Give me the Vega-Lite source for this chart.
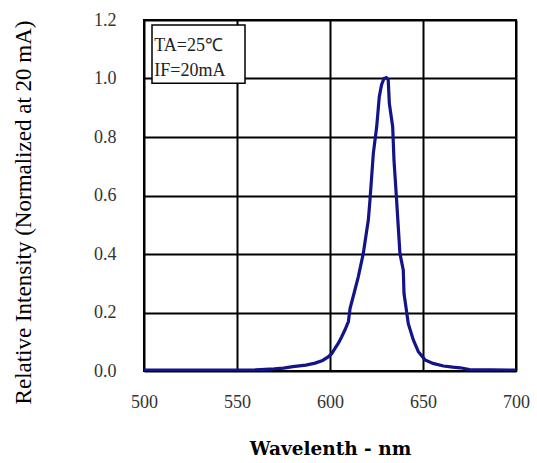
{
  "$schema": "https://vega.github.io/schema/vega-lite/v6.json",
  "width": 372,
  "height": 351,
  "autosize": {"type": "none"},
  "padding": {"left": 144, "top": 20, "right": 21, "bottom": 92},
  "background": "white",
  "config": {
    "view": {"stroke": "black", "strokeWidth": 2},
    "font": "Liberation Serif"
  },
  "datasets": {
    "spectrum": [
      {"wl": 500, "rel": 0.003},
      {"wl": 530, "rel": 0.003},
      {"wl": 560, "rel": 0.004},
      {"wl": 570, "rel": 0.007},
      {"wl": 575, "rel": 0.010},
      {"wl": 580, "rel": 0.015},
      {"wl": 587, "rel": 0.020},
      {"wl": 592, "rel": 0.027},
      {"wl": 596, "rel": 0.036},
      {"wl": 599, "rel": 0.048},
      {"wl": 601, "rel": 0.060},
      {"wl": 602.7, "rel": 0.077},
      {"wl": 604.5, "rel": 0.095},
      {"wl": 606.3, "rel": 0.117},
      {"wl": 608, "rel": 0.140},
      {"wl": 609.9, "rel": 0.169},
      {"wl": 610.8, "rel": 0.214},
      {"wl": 612.9, "rel": 0.265},
      {"wl": 615.2, "rel": 0.322},
      {"wl": 617.9, "rel": 0.402},
      {"wl": 620.6, "rel": 0.516},
      {"wl": 621.5, "rel": 0.585},
      {"wl": 623.3, "rel": 0.744},
      {"wl": 625.1, "rel": 0.835},
      {"wl": 626.5, "rel": 0.938},
      {"wl": 627.7, "rel": 0.978},
      {"wl": 629.0, "rel": 1.000},
      {"wl": 630.3, "rel": 1.003},
      {"wl": 631.3, "rel": 0.995},
      {"wl": 631.9, "rel": 0.915},
      {"wl": 633.7, "rel": 0.835},
      {"wl": 634.4, "rel": 0.721},
      {"wl": 635.8, "rel": 0.585},
      {"wl": 636.7, "rel": 0.493},
      {"wl": 637.6, "rel": 0.402},
      {"wl": 639.4, "rel": 0.345},
      {"wl": 639.8, "rel": 0.265},
      {"wl": 642.1, "rel": 0.162},
      {"wl": 644.8, "rel": 0.106},
      {"wl": 647.5, "rel": 0.066},
      {"wl": 651.1, "rel": 0.038},
      {"wl": 655.4, "rel": 0.026},
      {"wl": 661, "rel": 0.017},
      {"wl": 666, "rel": 0.013},
      {"wl": 670, "rel": 0.011},
      {"wl": 675, "rel": 0.005},
      {"wl": 700, "rel": 0.003}
    ],
    "box": [
      {"x1": 504.3, "x2": 554.3, "y1": 0.984, "y2": 1.183}
    ],
    "labels": [
      {"x": 505.5, "y": 1.11, "t": "TA=25\u2103"},
      {"x": 505.5, "y": 1.025, "t": "IF=20mA"}
    ]
  },
  "layer": [
    {
      "data": {"name": "spectrum"},
      "mark": {"type": "line", "color": "#141489", "strokeWidth": 3.2, "clip": true},
      "encoding": {
        "x": {
          "field": "wl", "type": "quantitative",
          "scale": {"domain": [500, 700], "nice": false, "zero": false},
          "axis": {
            "values": [500, 550, 600, 650, 700],
            "title": "Wavelenth - nm",
            "titleFont": "DejaVu Serif",
            "titleFontSize": 18.5,
            "titleFontWeight": "bold",
            "titleColor": "black",
            "titlePadding": 28,
            "labelFont": "Liberation Serif",
            "labelFontSize": 18,
            "labelColor": "#333333",
            "labelPadding": 22,
            "ticks": false,
            "domain": false,
            "grid": true,
            "gridColor": "black",
            "gridWidth": 2,
            "gridOpacity": 1,
            "labelFlush": false
          }
        },
        "y": {
          "field": "rel", "type": "quantitative",
          "scale": {"domain": [0, 1.2], "nice": false},
          "axis": {
            "values": [0, 0.2, 0.4, 0.6, 0.8, 1.0, 1.2],
            "format": ".1f",
            "title": "Relative Intensity (Normalized at 20 mA)",
            "titleFont": "Liberation Serif",
            "titleFontSize": 23,
            "titleFontWeight": "normal",
            "titleColor": "black",
            "titlePadding": 58,
            "titleY": 192,
            "labelFont": "Liberation Serif",
            "labelFontSize": 18,
            "labelColor": "#333333",
            "labelPadding": 28,
            "ticks": false,
            "domain": false,
            "grid": true,
            "gridColor": "black",
            "gridWidth": 2,
            "gridOpacity": 1
          }
        }
      }
    },
    {
      "data": {"name": "box"},
      "mark": {"type": "rect", "fill": "white", "stroke": "black", "strokeWidth": 1.5},
      "encoding": {
        "x": {"field": "x1", "type": "quantitative"},
        "x2": {"field": "x2"},
        "y": {"field": "y1", "type": "quantitative"},
        "y2": {"field": "y2"}
      }
    },
    {
      "data": {"name": "labels"},
      "mark": {"type": "text", "align": "left", "baseline": "middle", "font": "Liberation Serif", "fontSize": 18, "color": "#222222"},
      "encoding": {
        "x": {"field": "x", "type": "quantitative"},
        "y": {"field": "y", "type": "quantitative"},
        "text": {"field": "t"}
      }
    }
  ]
}
